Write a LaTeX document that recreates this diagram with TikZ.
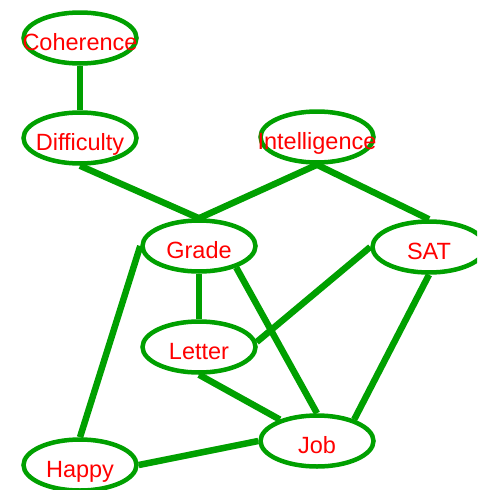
\documentclass[tikz,border=0pt]{standalone}
\usepackage{fontspec}
\setmainfont{Liberation Sans}
\usetikzlibrary{shapes.geometric}
\definecolor{edgegreen}{RGB}{0,160,0}
\definecolor{labelred}{RGB}{255,0,0}
\tikzset{
  var/.style={ellipse, draw=edgegreen, line width=4.5pt, fill=white,
    minimum width=113pt, minimum height=51pt, inner sep=0pt,
    text=labelred, text height=25pt, text depth=0pt,
    font=\fontsize{23.5}{27}\selectfont},
  link/.style={draw=edgegreen, line width=6.5pt}
}
\newcommand{\vlabel}[1]{\makebox[0pt]{#1}}
\begin{document}
\begin{tikzpicture}[x=1pt,y=-1pt]
\clip (0,0) rectangle (477,490);
\node[var] (coh) at (80,38) {\vlabel{Coherence}};
\node[var] (dif) at (80,138) {\vlabel{Difficulty}};
\node[var] (int) at (317,137) {\vlabel{Intelligence}};
\node[var] (gra) at (199,246) {\vlabel{Grade}};
\node[var] (sat) at (429,247) {\vlabel{SAT}};
\node[var] (let) at (199,347) {\vlabel{Letter}};
\node[var] (job) at (317,441) {\vlabel{Job}};
\node[var] (hap) at (80,465) {\vlabel{Happy}};
\draw[link] (coh.south) -- (dif.north);
\draw[link] (dif.south) -- (gra.north);
\draw[link] (int.south) -- (gra.north);
\draw[link] (int.south) -- (sat.north);
\draw[link] (gra.south) -- (let.north);
\draw[link] (gra.west) -- (hap.north);
\draw[link] (gra.-30) -- (job.north);
\draw[link] (sat.west) -- (let.5);
\draw[link] (sat.south) -- (job.30);
\draw[link] (let.south) -- (job.150);
\draw[link] (hap.east) -- (job.west);
\end{tikzpicture}
\end{document}
